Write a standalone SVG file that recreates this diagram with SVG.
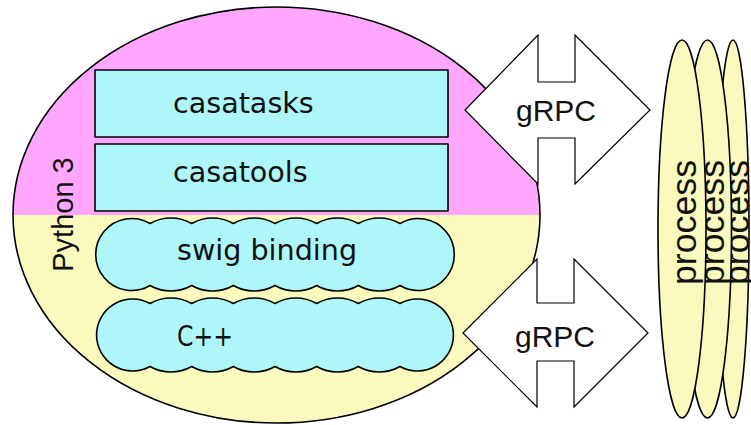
<svg xmlns="http://www.w3.org/2000/svg" width="751" height="425" viewBox="0 0 751 425">
<style>
.ol{stroke:#000;stroke-width:1.6;stroke-linejoin:round}
.cyan{fill:#AEF6FA}
.yel{fill:#FAFABE}
.pink{fill:#FFA6FF}
.lbl{font-family:"DejaVu Sans",sans-serif;font-size:28.6px;fill:#111}
.hv{font-family:"Liberation Sans",Arial,sans-serif;fill:#111}
.arrow{fill:#fff;stroke:#000;stroke-width:1.2;stroke-linejoin:miter}
</style>
<rect width="751" height="425" fill="#fff"/>
<g id="python3">
  <path class="pink" d="M13,215 A263.5,208 0 0 1 540,215 Z"/>
  <path class="yel" d="M13,215 A263.5,208 0 0 0 540,215 Z"/>
  <ellipse cx="276.5" cy="215" rx="263.5" ry="208" fill="none" class="ol"/>
  <text class="hv" font-size="29" text-anchor="middle" transform="translate(73,214.5) rotate(-90)">Python 3</text>
</g>
<g id="casatasks">
  <rect x="95" y="70" width="353" height="67" class="cyan ol"/>
  <text class="lbl" x="173" y="113">casatasks</text>
</g>
<g id="casatools">
  <rect x="95" y="144" width="353" height="67" class="cyan ol"/>
  <text class="lbl" x="173" y="182">casatools</text>
</g>
<g id="swig">
  <path class="cyan ol" d="M150,223.5 A42,42 0 0 1 191.67,223.5 A42,42 0 0 1 233.33,223.5 A42,42 0 0 1 275,223.5 A42,42 0 0 1 316.67,223.5 A42,42 0 0 1 358.33,223.5 A42,42 0 0 1 400,223.5 A36,36 0 1 1 400,285.5 A42,42 0 0 1 358.33,285.5 A42,42 0 0 1 316.67,285.5 A42,42 0 0 1 275,285.5 A42,42 0 0 1 233.33,285.5 A42,42 0 0 1 191.67,285.5 A42,42 0 0 1 150,285.5 A36,36 0 1 1 150,223.5 Z"/>
  <text class="lbl" x="177" y="260">swig binding</text>
</g>
<g id="cpp">
  <path class="cyan ol" d="M150,303.5 A42,42 0 0 1 191.67,303.5 A42,42 0 0 1 233.33,303.5 A42,42 0 0 1 275,303.5 A42,42 0 0 1 316.67,303.5 A42,42 0 0 1 358.33,303.5 A42,42 0 0 1 400,303.5 A36,36 0 1 1 400,366.5 A42,42 0 0 1 358.33,366.5 A42,42 0 0 1 316.67,366.5 A42,42 0 0 1 275,366.5 A42,42 0 0 1 233.33,366.5 A42,42 0 0 1 191.67,366.5 A42,42 0 0 1 150,366.5 A36,36 0 1 1 150,303.5 Z"/>
  <text class="lbl" x="177" y="346" textLength="56" lengthAdjust="spacingAndGlyphs">C++</text>
</g>
<g id="connectors">
  <g id="grpc-top">
    <polygon class="arrow" points="465,110 538,35 538,82 575,82 575,35 650,110 575,184 575,138 538,138 538,184"/>
    <text class="hv" font-size="30" text-anchor="middle" x="556" y="121">gRPC</text>
  </g>
  <g id="grpc-bottom">
    <polygon class="arrow" points="463,333 537,259 537,303 574,303 574,259 648,333 574,407 574,361 537,361 537,407"/>
    <text class="hv" font-size="30" text-anchor="middle" x="555" y="347">gRPC</text>
  </g>
</g>
<g id="process3">
  <ellipse cx="733" cy="229" rx="16" ry="189" class="yel ol"/>
  <text class="hv" font-size="35.7" text-anchor="middle" transform="translate(749,222.5) rotate(-90)">process</text>
</g>
<g id="process2">
  <ellipse cx="707.5" cy="229" rx="24" ry="189" class="yel ol"/>
  <text class="hv" font-size="35.7" text-anchor="middle" transform="translate(723.5,222.5) rotate(-90)">process</text>
</g>
<g id="process1">
  <ellipse cx="682" cy="229" rx="24" ry="189" class="yel ol"/>
  <text class="hv" font-size="35.7" text-anchor="middle" transform="translate(696,222.5) rotate(-90)">process</text>
</g>
</svg>
